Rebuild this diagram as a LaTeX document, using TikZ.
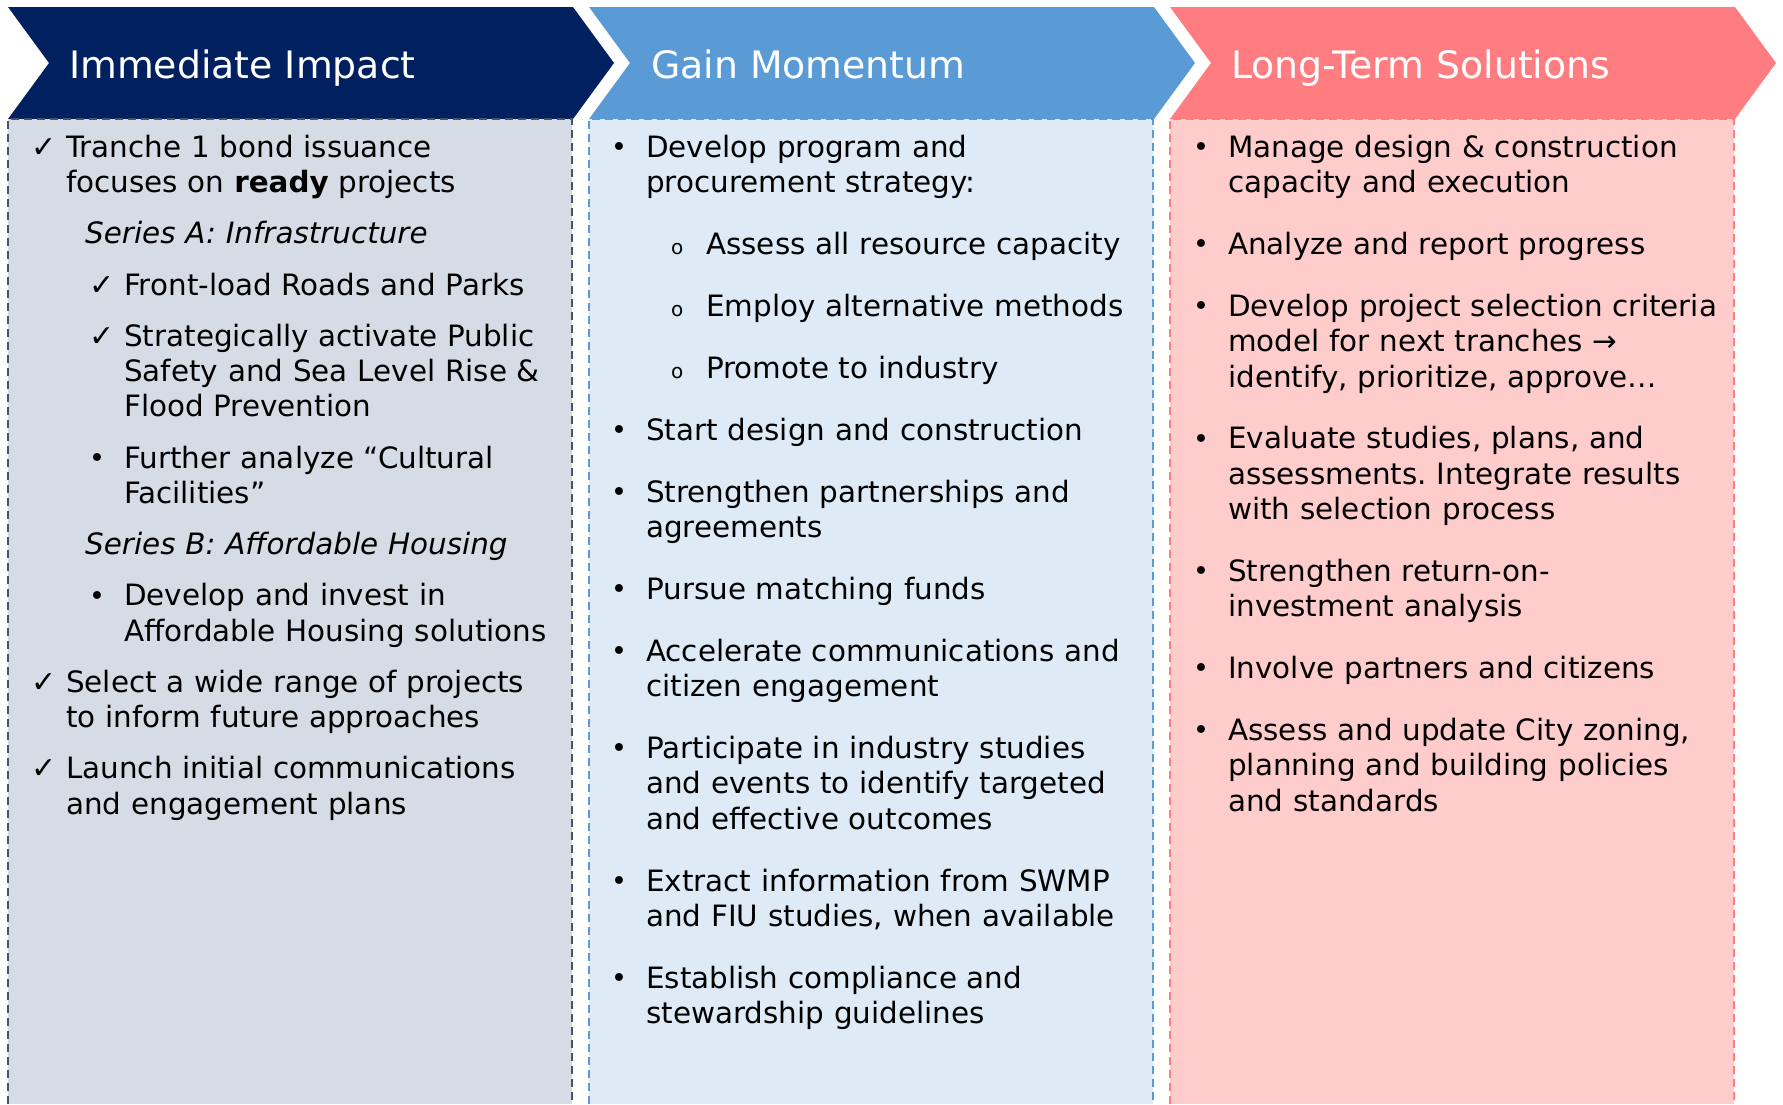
\documentclass[tikz,border=0pt]{standalone}
\usepackage{fontspec}
\setmainfont{DejaVu Sans}
\usepackage{tikz}

\definecolor{navyhead}{HTML}{002060}
\definecolor{navybody}{HTML}{D6DCE5}
\definecolor{navyline}{HTML}{44546A}
\definecolor{bluehead}{HTML}{5B9BD5}
\definecolor{bluebody}{HTML}{DEEBF7}
\definecolor{redhead}{HTML}{FF7C80}
\definecolor{redbody}{HTML}{FFCCCC}

\newcommand{\itemmark}[1]{\llap{\makebox[35pt][l]{#1}}}
\newcommand{\itemchk}{\itemmark{{\fontsize{30}{30}\selectfont ✓}}}
\newcommand{\itembul}{\itemmark{\raisebox{0.8pt}{\fontsize{27}{27}\selectfont •}}}
\newcommand{\itemcirc}{\itemmark{{\fontsize{20}{20}\selectfont o}}}

\begin{document}
\begin{tikzpicture}[x=1pt,y=-1pt]
    \tikzset{
    head/.style={text=white,font=\fontsize{37.8}{40}\selectfont,anchor=base west,inner sep=0pt},
    txt/.style={font=\fontsize{29.4}{35.25}\selectfont\frenchspacing,text width=520pt,align=left,anchor=base west,inner sep=0pt},
    frame/.style={dash pattern=on 8pt off 5pt,line width=2pt},
    }
    \useasboundingbox (0,0) rectangle (1783,1104);

    \fill[navyhead] (8,7) -- (573,7) -- (614,63) -- (573,119) -- (8,119) -- (49,63) -- cycle;
    \fill[bluehead] (589,7) -- (1154,7) -- (1195,63) -- (1154,119) -- (589,119) -- (630,63) -- cycle;
    \fill[redhead] (1170,7) -- (1735,7) -- (1776,63) -- (1735,119) -- (1170,119) -- (1211,63) -- cycle;

    \fill[navybody] (8,119) rectangle (572,1104);
    \fill[bluebody] (589,119) rectangle (1153,1104);
    \fill[redbody] (1170,119) rectangle (1734,1104);
    \draw[frame,navyline] (8,1104) -- (8,119) -- (572,119) -- (572,1104);
    \draw[frame,bluehead] (589,1104) -- (589,119) -- (1153,119) -- (1153,1104);
    \draw[frame,redhead] (1170,1104) -- (1170,119) -- (1734,119) -- (1734,1104);

    \node[head] (h1) at (69,78) {Immediate Impact};
    \node[head] (h2) at (651,78) {Gain Momentum};
    \node[head] (h3) at (1231,78) {Long-Term Solutions};

    \node[txt] (a1) at (66,157.3) {\itemchk Tranche 1 bond issuance\\ focuses on \textbf{ready} projects};
    \node[txt] (a2) at (85,243.8) {\textit{Series A: Infrastructure}};
    \node[txt] (a3) at (124,295) {\itemchk Front-load Roads and Parks};
    \node[txt] (a4) at (124,346.3) {\itemchk Strategically activate Public\\ Safety and Sea Level Rise \&\\ Flood Prevention};
    \node[txt] (a5) at (124,468) {\itembul Further analyze “Cultural\\ Facilities”};
    \node[txt] (a6) at (85,554.5) {\textit{Series B: Affordable Housing}};
    \node[txt] (a7) at (124,605.8) {\itembul Develop and invest in\\ Affordable Housing solutions};
    \node[txt] (a8) at (66,692.3) {\itemchk Select a wide range of projects\\ to inform future approaches};
    \node[txt] (a9) at (66,778.8) {\itemchk Launch initial communications\\ and engagement plans};

    \node[txt] (g1) at (646,157.3) {\itembul Develop program and\\ procurement strategy:};
    \node[txt] (g2) at (706,254.5) {\itemcirc Assess all resource capacity};
    \node[txt] (g3) at (706,316.5) {\itemcirc Employ alternative methods};
    \node[txt] (g4) at (706,378.4) {\itemcirc Promote to industry};
    \node[txt] (g5) at (646,440.3) {\itembul Start design and construction};
    \node[txt] (g6) at (646,502.3) {\itembul Strengthen partnerships and\\ agreements};
    \node[txt] (g7) at (646,599.5) {\itembul Pursue matching funds};
    \node[txt] (g8) at (646,661.5) {\itembul Accelerate communications and\\ citizen engagement};
    \node[txt] (g9) at (646,758.7) {\itembul Participate in industry studies\\ and events to identify targeted\\ and effective outcomes};
    \node[txt] (g10) at (646,891.1) {\itembul Extract information from SWMP\\ and FIU studies, when available};
    \node[txt] (g11) at (646,988.3) {\itembul Establish compliance and\\ stewardship guidelines};

    \node[txt] (l1) at (1228,157.3) {\itembul Manage design \& construction\\ capacity and execution};
    \node[txt] (l2) at (1228,254.5) {\itembul Analyze and report progress};
    \node[txt] (l3) at (1228,316.5) {\itembul Develop project selection criteria\\ model for next tranches →\\ identify, prioritize, approve…};
    \node[txt] (l4) at (1228,448.9) {\itembul Evaluate studies, plans, and\\ assessments. Integrate results\\ with selection process};
    \node[txt] (l5) at (1228,581.4) {\itembul Strengthen return-on-\\ investment analysis};
    \node[txt] (l6) at (1228,678.6) {\itembul Involve partners and citizens};
    \node[txt] (l7) at (1228,740.5) {\itembul Assess and update City zoning,\\ planning and building policies\\ and standards};

\end{tikzpicture}
\end{document}
